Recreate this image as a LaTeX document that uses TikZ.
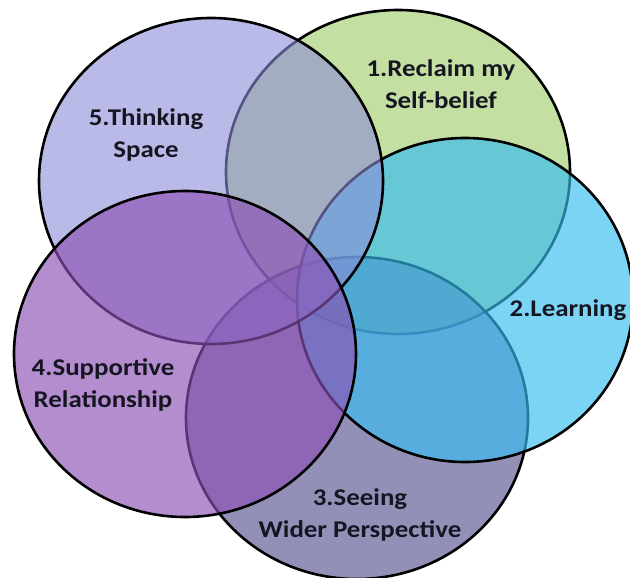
\documentclass[tikz,border=0pt]{standalone}
\usepackage{fontspec}
\setmainfont{Carlito}
\newfontfamily\lblfont{Carlito}[FakeStretch=1.12]
\definecolor{cgreen}{RGB}{164,207,112}
\definecolor{ccyan}{RGB}{55,189,241}
\definecolor{cgrey}{RGB}{90,86,147}
\definecolor{cpurple}{RGB}{140,81,180}
\definecolor{clav}{RGB}{140,140,217}
\definecolor{txt}{RGB}{22,22,34}
\tikzset{
  venn/.style={draw=black, line width=2.6pt, fill opacity=0.65, draw opacity=1},
  lbl/.style={font=\lblfont\fontsize{24}{32}\selectfont\bfseries, text=txt, align=center, inner sep=0pt}
}
\begin{document}
\begin{tikzpicture}[x=1pt,y=-1pt]
\useasboundingbox (0,0) rectangle (630,578);
\fill[white] (0,0) rectangle (630,578);
\begin{scope}
\clip (0,0) rectangle (630,578);
\draw[venn, fill=cgreen]  (398,172) ellipse [x radius=172pt, y radius=162pt];
\draw[venn, fill=cgrey]   (357,418) ellipse [x radius=171pt, y radius=161pt];
\draw[venn, fill=ccyan]   (465,300) ellipse [x radius=168pt, y radius=162pt];
\draw[venn, fill=clav, fill opacity=0.6] (211,181) ellipse [x radius=172pt, y radius=163pt];
\draw[venn, fill=cpurple] (185,354) ellipse [x radius=171pt, y radius=163pt];
\end{scope}
\node[lbl] (t1) at (441,84) {1.Reclaim my\\Self-belief};
\node[lbl] (t5) at (146,135) {5.Thinking\\Space};
\node[lbl] (t2) at (568,310) {2.Learning};
\node[lbl] (t4) at (103,385) {4.Supportive\\Relationship};
\node[lbl] (t3) at (360,515) {3.Seeing\\Wider Perspective};
\end{tikzpicture}
\end{document}
